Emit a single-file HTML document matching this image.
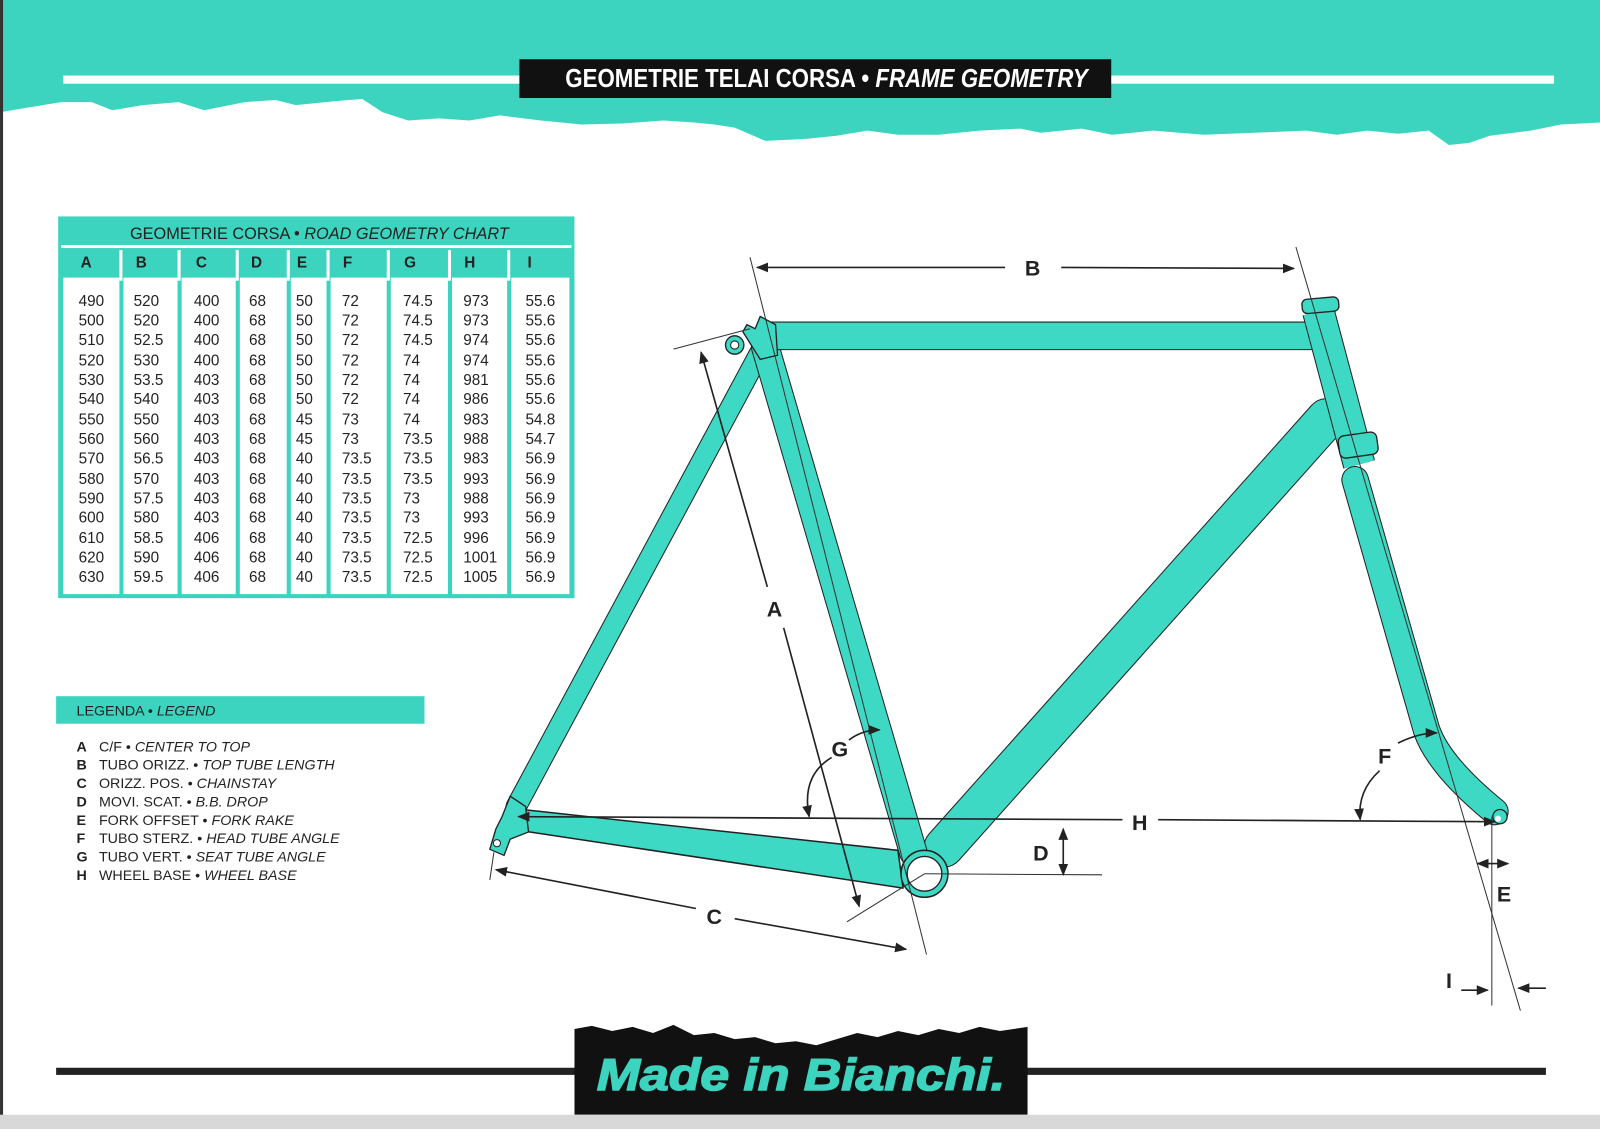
<!DOCTYPE html>
<html><head><meta charset="utf-8"><style>
html,body{margin:0;padding:0;background:#fff;}
svg{display:block;}
text{font-family:"Liberation Sans",sans-serif;}
</style></head><body>
<svg width="1600" height="1129" viewBox="0 0 1568 1106" preserveAspectRatio="none" xmlns="http://www.w3.org/2000/svg">
<rect width="1568" height="1106" fill="#fff"/>
<!-- header -->
<path fill="#3dd4bf" d="M0,0H1568V120L1530,122 1500,128 1460,133 1440,140 1420,142 1400,128 1370,131 1340,128 1310,132 1280,128 1230,130 1180,132 1130,128 1090,132 1060,126 1020,130 1000,126 960,128 920,132 880,132 850,128 820,133 790,136 750,138 720,125 700,122 680,120 650,118 610,121 570,122 530,118 505,115 490,113 460,118 430,116 400,118 375,110 355,97 330,99 290,103 270,98 240,100 200,108 175,100 140,103 110,108 90,100 60,100 30,105 0,110Z"/>
<rect x="62" y="74" width="1461" height="8" fill="#fff"/>
<rect x="509" y="58" width="580" height="38" fill="#111"/>
<text x="810" y="85" fill="#fff" font-family="Liberation Sans Narrow, Liberation Sans, sans-serif" font-weight="bold" font-size="25" text-anchor="middle" textLength="512" lengthAdjust="spacingAndGlyphs">GEOMETRIE TELAI  CORSA • <tspan font-style="italic">FRAME GEOMETRY</tspan></text>
<rect x="0" y="0" width="3" height="1106" fill="#333"/>

<!-- table -->
<rect x="57" y="212" width="506" height="374" fill="#3dd4bf"/>
<rect x="60" y="240" width="500" height="3" fill="#fff"/>
<text x="313" y="234" font-size="16" text-anchor="middle" fill="#222">GEOMETRIE CORSA • <tspan font-style="italic">ROAD GEOMETRY CHART</tspan></text>
<g fill="#fff">
<rect x="62" y="272" width="55" height="310"/><rect x="121" y="272" width="53" height="310"/><rect x="178" y="272" width="53" height="310"/><rect x="235" y="272" width="46" height="310"/><rect x="285" y="272" width="35" height="310"/><rect x="324" y="272" width="55" height="310"/><rect x="383" y="272" width="56" height="310"/><rect x="443" y="272" width="54" height="310"/><rect x="501" y="272" width="57" height="310"/>
<rect x="117" y="245" width="3" height="30"/><rect x="174" y="245" width="3" height="30"/><rect x="231" y="245" width="3" height="30"/><rect x="281" y="245" width="3" height="30"/><rect x="320" y="245" width="3" height="30"/><rect x="379" y="245" width="3" height="30"/><rect x="439" y="245" width="3" height="30"/><rect x="497" y="245" width="3" height="30"/>
</g>
<g font-size="15" font-weight="bold" fill="#222">
<text x="79" y="262">A</text><text x="133" y="262">B</text><text x="192" y="262">C</text><text x="246" y="262">D</text><text x="291" y="262">E</text><text x="336" y="262">F</text><text x="396" y="262">G</text><text x="455" y="262">H</text><text x="517" y="262">I</text>
</g>
<g font-size="15" fill="#222">
<text x="77" y="300">490</text><text x="131" y="300">520</text><text x="190" y="300">400</text><text x="244" y="300">68</text><text x="290" y="300">50</text><text x="335" y="300">72</text><text x="395" y="300">74.5</text><text x="454" y="300">973</text><text x="515" y="300">55.6</text>
<text x="77" y="319">500</text><text x="131" y="319">520</text><text x="190" y="319">400</text><text x="244" y="319">68</text><text x="290" y="319">50</text><text x="335" y="319">72</text><text x="395" y="319">74.5</text><text x="454" y="319">973</text><text x="515" y="319">55.6</text>
<text x="77" y="338">510</text><text x="131" y="338">52.5</text><text x="190" y="338">400</text><text x="244" y="338">68</text><text x="290" y="338">50</text><text x="335" y="338">72</text><text x="395" y="338">74.5</text><text x="454" y="338">974</text><text x="515" y="338">55.6</text>
<text x="77" y="358">520</text><text x="131" y="358">530</text><text x="190" y="358">400</text><text x="244" y="358">68</text><text x="290" y="358">50</text><text x="335" y="358">72</text><text x="395" y="358">74</text><text x="454" y="358">974</text><text x="515" y="358">55.6</text>
<text x="77" y="377">530</text><text x="131" y="377">53.5</text><text x="190" y="377">403</text><text x="244" y="377">68</text><text x="290" y="377">50</text><text x="335" y="377">72</text><text x="395" y="377">74</text><text x="454" y="377">981</text><text x="515" y="377">55.6</text>
<text x="77" y="396">540</text><text x="131" y="396">540</text><text x="190" y="396">403</text><text x="244" y="396">68</text><text x="290" y="396">50</text><text x="335" y="396">72</text><text x="395" y="396">74</text><text x="454" y="396">986</text><text x="515" y="396">55.6</text>
<text x="77" y="416">550</text><text x="131" y="416">550</text><text x="190" y="416">403</text><text x="244" y="416">68</text><text x="290" y="416">45</text><text x="335" y="416">73</text><text x="395" y="416">74</text><text x="454" y="416">983</text><text x="515" y="416">54.8</text>
<text x="77" y="435">560</text><text x="131" y="435">560</text><text x="190" y="435">403</text><text x="244" y="435">68</text><text x="290" y="435">45</text><text x="335" y="435">73</text><text x="395" y="435">73.5</text><text x="454" y="435">988</text><text x="515" y="435">54.7</text>
<text x="77" y="454">570</text><text x="131" y="454">56.5</text><text x="190" y="454">403</text><text x="244" y="454">68</text><text x="290" y="454">40</text><text x="335" y="454">73.5</text><text x="395" y="454">73.5</text><text x="454" y="454">983</text><text x="515" y="454">56.9</text>
<text x="77" y="474">580</text><text x="131" y="474">570</text><text x="190" y="474">403</text><text x="244" y="474">68</text><text x="290" y="474">40</text><text x="335" y="474">73.5</text><text x="395" y="474">73.5</text><text x="454" y="474">993</text><text x="515" y="474">56.9</text>
<text x="77" y="493">590</text><text x="131" y="493">57.5</text><text x="190" y="493">403</text><text x="244" y="493">68</text><text x="290" y="493">40</text><text x="335" y="493">73.5</text><text x="395" y="493">73</text><text x="454" y="493">988</text><text x="515" y="493">56.9</text>
<text x="77" y="512">600</text><text x="131" y="512">580</text><text x="190" y="512">403</text><text x="244" y="512">68</text><text x="290" y="512">40</text><text x="335" y="512">73.5</text><text x="395" y="512">73</text><text x="454" y="512">993</text><text x="515" y="512">56.9</text>
<text x="77" y="532">610</text><text x="131" y="532">58.5</text><text x="190" y="532">406</text><text x="244" y="532">68</text><text x="290" y="532">40</text><text x="335" y="532">73.5</text><text x="395" y="532">72.5</text><text x="454" y="532">996</text><text x="515" y="532">56.9</text>
<text x="77" y="551">620</text><text x="131" y="551">590</text><text x="190" y="551">406</text><text x="244" y="551">68</text><text x="290" y="551">40</text><text x="335" y="551">73.5</text><text x="395" y="551">72.5</text><text x="454" y="551">1001</text><text x="515" y="551">56.9</text>
<text x="77" y="570">630</text><text x="131" y="570">59.5</text><text x="190" y="570">406</text><text x="244" y="570">68</text><text x="290" y="570">40</text><text x="335" y="570">73.5</text><text x="395" y="570">72.5</text><text x="454" y="570">1005</text><text x="515" y="570">56.9</text>
</g>

<!-- legend -->
<rect x="55" y="682" width="361" height="27" fill="#3dd4bf"/>
<text x="75" y="701" font-size="14" fill="#222">LEGENDA • <tspan font-style="italic">LEGEND</tspan></text>
<g font-size="14" fill="#222">
<text x="75" y="736"><tspan font-weight="bold">A</tspan><tspan x="97">C/F • </tspan><tspan font-style="italic">CENTER TO TOP</tspan></text>
<text x="75" y="754"><tspan font-weight="bold">B</tspan><tspan x="97">TUBO ORIZZ. • </tspan><tspan font-style="italic">TOP TUBE LENGTH</tspan></text>
<text x="75" y="772"><tspan font-weight="bold">C</tspan><tspan x="97">ORIZZ. POS. • </tspan><tspan font-style="italic">CHAINSTAY</tspan></text>
<text x="75" y="790"><tspan font-weight="bold">D</tspan><tspan x="97">MOVI. SCAT. • </tspan><tspan font-style="italic">B.B. DROP</tspan></text>
<text x="75" y="808"><tspan font-weight="bold">E</tspan><tspan x="97">FORK OFFSET • </tspan><tspan font-style="italic">FORK RAKE</tspan></text>
<text x="75" y="826"><tspan font-weight="bold">F</tspan><tspan x="97">TUBO STERZ. • </tspan><tspan font-style="italic">HEAD TUBE ANGLE</tspan></text>
<text x="75" y="844"><tspan font-weight="bold">G</tspan><tspan x="97">TUBO VERT. • </tspan><tspan font-style="italic">SEAT TUBE ANGLE</tspan></text>
<text x="75" y="862"><tspan font-weight="bold">H</tspan><tspan x="97">WHEEL BASE • </tspan><tspan font-style="italic">WHEEL BASE</tspan></text>
</g>

<!-- frame -->
<defs>
<marker id="ar" viewBox="0 0 10 10" refX="9" refY="5" markerWidth="12" markerHeight="12" markerUnits="userSpaceOnUse" orient="auto-start-reverse"><path d="M0,1L10,5L0,9Z" fill="#222"/></marker>
</defs>
<g stroke-linecap="round" fill="none">
<line x1="745" y1="345" x2="506" y2="790" stroke="#222" stroke-width="21"/>
<line x1="745" y1="345" x2="506" y2="790" stroke="#3dd9c4" stroke-width="19"/>
<path d="M512,793 L880,833 L885,870 L512,814Z" fill="#3dd9c4" stroke="#222" stroke-width="1.5" stroke-linejoin="round"/>
<line x1="1300" y1="410" x2="925" y2="830" stroke="#222" stroke-width="40"/>
<line x1="1300" y1="410" x2="925" y2="830" stroke="#3dd9c4" stroke-width="38"/>
<line x1="750" y1="340" x2="895" y2="835" stroke="#222" stroke-width="28"/>
<line x1="750" y1="340" x2="895" y2="835" stroke="#3dd9c4" stroke-width="26"/>
<line x1="755" y1="329" x2="1290" y2="329" stroke="#222" stroke-width="28"/>
<line x1="755" y1="329" x2="1290" y2="329" stroke="#3dd9c4" stroke-width="26"/>
<path d="M1328,470 L1398,715 Q1410,750 1465,795" stroke="#222" stroke-width="27"/>
<path d="M1328,470 L1398,715 Q1410,750 1465,795" stroke="#3dd9c4" stroke-width="25"/>
<line x1="1292" y1="305" x2="1332" y2="455" stroke="#222" stroke-width="32" stroke-linecap="butt"/>
<line x1="1292" y1="305" x2="1332" y2="455" stroke="#3dd9c4" stroke-width="30" stroke-linecap="butt"/>
</g>
<rect x="1276" y="292" width="36" height="14" rx="5" fill="#3dd9c4" stroke="#222" stroke-width="1.3" transform="rotate(-5 1294 299)"/>
<rect x="1312" y="425" width="38" height="22" rx="6" fill="#3dd9c4" stroke="#222" stroke-width="1.3" transform="rotate(-8 1331 436)"/>
<path d="M728,325 L732,318 L740,322 L745,310 L760,318 L762,348 L745,352 Z" fill="#3dd9c4" stroke="#222" stroke-width="1.3"/>
<circle cx="720" cy="338" r="9" fill="#3dd9c4" stroke="#222" stroke-width="1.3"/>
<circle cx="720" cy="338" r="4" fill="#fff" stroke="#222"/>
<path d="M500,780 L515,790 L518,815 L500,822 L494,838 L480,832 L486,812 L492,800 Z" fill="#3dd9c4" stroke="#222" stroke-width="1.3"/>
<circle cx="487" cy="826" r="3.5" fill="#fff" stroke="#222"/>
<circle cx="1470" cy="800" r="7" fill="#3dd9c4" stroke="#222" stroke-width="1.3"/>
<circle cx="1468" cy="802" r="3" fill="#fff"/>
<circle cx="906" cy="856" r="23" fill="#3dd9c4" stroke="#222" stroke-width="1.5"/>
<circle cx="906" cy="856" r="17" fill="#fff" stroke="#222" stroke-width="1.3"/>

<g stroke="#333" fill="none" stroke-width="1">
<line x1="735" y1="252" x2="908" y2="935"/>
<line x1="1270" y1="242" x2="1490" y2="990"/>
<line x1="1462" y1="800" x2="1462" y2="985"/>
<line x1="660" y1="342" x2="735" y2="322"/>
<line x1="906" y1="856" x2="830" y2="903"/>
<line x1="906" y1="856" x2="1080" y2="857"/>
<line x1="484" y1="835" x2="480" y2="862"/>
</g>
<g stroke="#222" stroke-width="1.6" fill="none">
<line x1="742" y1="262" x2="985" y2="262" marker-start="url(#ar)"/>
<line x1="1040" y1="262" x2="1268" y2="263" marker-end="url(#ar)"/>
<line x1="687" y1="345" x2="752" y2="575" marker-start="url(#ar)"/>
<line x1="768" y1="615" x2="842" y2="888" marker-end="url(#ar)"/>
<line x1="486" y1="852" x2="682" y2="890" marker-start="url(#ar)"/>
<line x1="720" y1="900" x2="888" y2="930" marker-end="url(#ar)"/>
<line x1="508" y1="800" x2="1100" y2="803" marker-start="url(#ar)"/>
<line x1="1135" y1="803" x2="1465" y2="805" marker-end="url(#ar)"/>
<line x1="1042" y1="812" x2="1042" y2="857" marker-start="url(#ar)" marker-end="url(#ar)"/>
<path d="M815,742 Q785,760 793,800" marker-end="url(#ar)"/>
<path d="M832,725 Q845,715 862,715" marker-end="url(#ar)"/>
<path d="M1352,755 Q1330,775 1333,803" marker-end="url(#ar)"/>
<path d="M1370,728 Q1390,718 1408,718" marker-end="url(#ar)"/>
<line x1="1448" y1="846" x2="1478" y2="846" marker-start="url(#ar)" marker-end="url(#ar)"/>
<line x1="1432" y1="970" x2="1458" y2="970" marker-end="url(#ar)"/>
<line x1="1515" y1="968" x2="1488" y2="968" marker-end="url(#ar)"/>
</g>
<g font-size="21" font-weight="bold" fill="#222" text-anchor="middle">
<text x="1012" y="270">B</text>
<text x="759" y="604">A</text>
<text x="700" y="905">C</text>
<text x="1117" y="813">H</text>
<text x="1020" y="843">D</text>
<text x="823" y="741">G</text>
<text x="1357" y="748">F</text>
<text x="1474" y="883">E</text>
<text x="1420" y="968">I</text>
</g>

<rect x="55" y="1046" width="1460" height="7" fill="#222"/>
<path d="M563,1092 V1008 L580,1005 600,1010 620,1006 640,1012 660,1004 680,1014 700,1012 720,1018 740,1016 760,1022 780,1020 800,1024 820,1018 840,1012 860,1016 880,1010 900,1014 920,1008 940,1012 960,1006 980,1010 1007,1006 V1092Z" fill="#111"/>
<text x="585" y="1068" font-size="44" font-weight="bold" font-style="italic" fill="#3dd4bf" font-family="Liberation Sans Narrow, Liberation Sans, sans-serif" textLength="400" lengthAdjust="spacingAndGlyphs" stroke="#3dd4bf" stroke-width="1.5">Made in Bianchi.</text>
<rect x="0" y="1092" width="1568" height="14" fill="#d8d8d8"/>
</svg>
</body></html>
